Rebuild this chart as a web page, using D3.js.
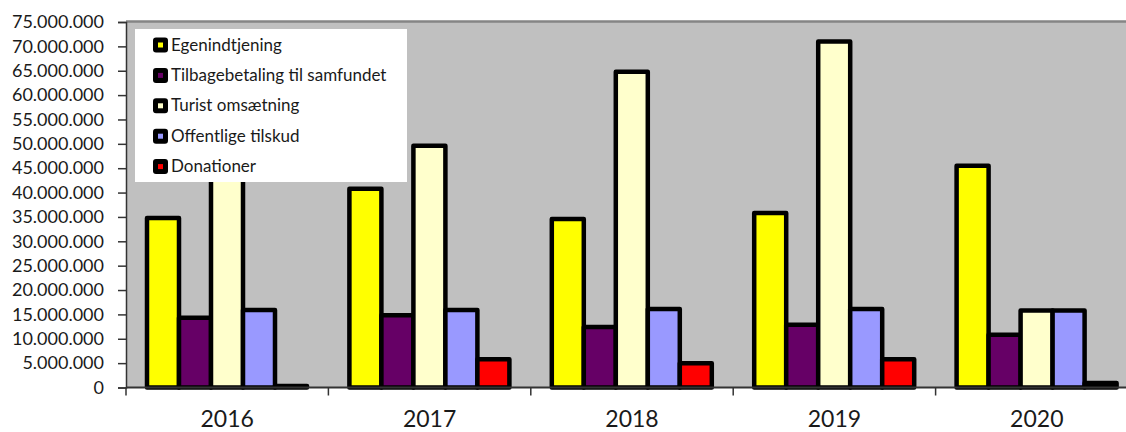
<!DOCTYPE html>
<html>
<head>
<meta charset="utf-8">
<script src="https://cdn.jsdelivr.net/npm/d3@7"></script>
<style>
  body { margin: 0; background: #fff; }
  svg { display: block; }
  text { font-family: Lato, "Open Sans", sans-serif; fill: #1a1a1a; }
</style>
</head>
<body>
<div id="chart"></div>
<script>
// data
var years = ["2016", "2017", "2018", "2019", "2020"];
var seriesNames = ["Egenindtjening", "Tilbagebetaling til samfundet", "Turist omsætning", "Offentlige tilskud", "Donationer"];
var seriesColors = ["#ffff00", "#660066", "#ffffcc", "#9999ff", "#ff0000"];
var egenindtjening = [34800000, 40800000, 34600000, 35800000, 45500000];
var tilbagebetaling = [14300000, 14800000, 12400000, 12900000, 10800000];
var turist = [47000000, 49600000, 64800000, 71000000, 15800000];
var tilskud = [15900000, 15900000, 16100000, 16100000, 15800000];
var donationer = [300000, 5800000, 5000000, 5800000, 900000];
var yTicks = d3.range(0, 75000001, 5000000);

var allSeries = [egenindtjening, tilbagebetaling, turist, tilskud, donationer];

var width = 1126, height = 432;
var plotLeft = 126, plotTop = 22, plotBottom = 387.5;
var band = 202.4;

var svg = d3.select("#chart").append("svg")
    .attr("width", width)
    .attr("height", height);

var x0 = d3.scaleBand()
    .domain(years)
    .range([plotLeft, plotLeft + band * years.length])
    .padding(0);

var x1 = d3.scaleBand()
    .domain(d3.range(seriesNames.length))
    .range([21, 21 + 32 * seriesNames.length])
    .padding(0);

var y = d3.scaleLinear()
    .domain([0, 75000000])
    .range([plotBottom, plotTop]);

var fmt = d3.formatLocale({decimal: ",", thousands: ".", grouping: [3], currency: ["", ""]}).format(",d");

// plot background
svg.append("rect")
    .attr("x", plotLeft)
    .attr("y", plotTop)
    .attr("width", width - plotLeft)
    .attr("height", plotBottom - plotTop)
    .style("fill", "#c0c0c0");

svg.append("line")
    .attr("x1", plotLeft).attr("x2", width)
    .attr("y1", plotTop - 0.5).attr("y2", plotTop - 0.5)
    .attr("stroke", "#858585")
    .attr("stroke-width", 2.5);

// bars
var groups = svg.selectAll("g.year")
    .data(years)
    .enter().append("g")
    .attr("class", "year")
    .attr("transform", function(d){ return "translate(" + x0(d) + ",0)"; });

groups.selectAll("rect")
    .data(function(d, i){
        return allSeries.map(function(s, k){ return {k: k, v: s[i]}; });
    })
    .enter().append("rect")
    .attr("x", function(d){ return x1(d.k); })
    .attr("width", x1.bandwidth())
    .attr("y", function(d){ return y(d.v); })
    .attr("height", function(d){ return plotBottom - y(d.v); })
    .style("fill", function(d){ return seriesColors[d.k]; })
    .attr("stroke", "#000")
    .attr("stroke-width", 4.5)
    .attr("stroke-linejoin", "round");

// y axis
var yAxis = svg.append("g")
    .attr("transform", "translate(" + plotLeft + ",0)")
    .call(d3.axisLeft(y).tickValues(yTicks).tickFormat(fmt).tickSize(8).tickPadding(14));
yAxis.select(".domain").attr("stroke", "#333").attr("stroke-width", 1.5);
yAxis.selectAll(".tick line").attr("stroke", "#333").attr("stroke-width", 1.5);
yAxis.selectAll(".tick text")
    .style("font-family", "Lato, sans-serif")
    .style("font-size", "18px")
    .style("fill", "#1a1a1a");

// x axis: ticks at band edges, labels in the middle
var xAxis = svg.append("g")
    .attr("transform", "translate(0," + plotBottom + ")")
    .call(d3.axisBottom(x0).tickSize(0).tickPadding(0));
xAxis.select(".domain").remove();
xAxis.selectAll(".tick text")
    .attr("y", 39)
    .attr("dy", null)
    .style("font-family", "Lato, sans-serif")
    .style("font-size", "23px")
    .style("fill", "#1a1a1a");

svg.append("line")
    .attr("x1", plotLeft).attr("x2", width)
    .attr("y1", plotBottom).attr("y2", plotBottom)
    .attr("stroke", "#333")
    .attr("stroke-width", 2);

svg.selectAll("line.xtick")
    .data(years)
    .enter().append("line")
    .attr("class", "xtick")
    .attr("x1", function(d){ return x0(d); })
    .attr("x2", function(d){ return x0(d); })
    .attr("y1", plotBottom)
    .attr("y2", plotBottom + 8)
    .attr("stroke", "#333")
    .attr("stroke-width", 1.5);

// legend
var legend = svg.append("g").attr("transform", "translate(135,29)");
legend.append("rect")
    .attr("width", 272)
    .attr("height", 153)
    .style("fill", "#fff");

var items = legend.selectAll("g.item")
    .data(seriesNames)
    .enter().append("g")
    .attr("class", "item")
    .attr("transform", function(d, i){ return "translate(0," + (15 + i * 30.4) + ")"; });

items.append("rect")
    .attr("x", 18).attr("y", -6.5)
    .attr("width", 15).attr("height", 15)
    .attr("rx", 3)
    .style("fill", "#000");
items.append("rect")
    .attr("x", 23).attr("y", -1.5)
    .attr("width", 5).attr("height", 5)
    .style("fill", function(d, i){ return seriesColors[i]; });
items.append("text")
    .attr("x", 36)
    .attr("y", 6.5)
    .style("font-size", "17px")
    .text(function(d){ return d; });
</script>
</body>
</html>
